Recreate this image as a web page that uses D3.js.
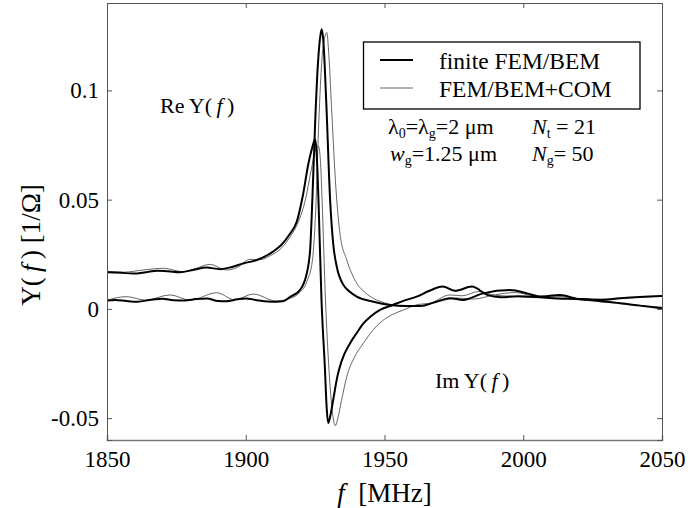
<!DOCTYPE html>
<html>
<head>
<meta charset="utf-8">
<script src="https://cdn.jsdelivr.net/npm/d3@7"></script>
<style>
  body { margin: 0; background: #fff; }
  svg text { font-family: 'Liberation Serif', 'Times New Roman', Times, 'DejaVu Serif', serif; fill: #000; }
</style>
</head>
<body>
<div id="chart"></div>
<script>
// frequency / admittance pairs, [MHz, 1/Ohm]
const reFem = [
  [1850, 0.0038], [1853, 0.0041], [1857, 0.0036], [1861, 0.0033], [1866, 0.0042], [1870, 0.0046],
  [1874, 0.0040], [1878, 0.0039], [1882, 0.0045], [1886, 0.0048], [1890, 0.0036], [1893, 0.0035],
  [1897, 0.0044], [1900, 0.0048], [1904, 0.0040], [1908, 0.0034], [1911, 0.0033], [1913.5, 0.0035],
  [1916, 0.0055], [1919.5, 0.0086], [1922, 0.0163], [1923.2, 0.027], [1924, 0.050], [1925, 0.085],
  [1926, 0.112], [1927, 0.126], [1927.4, 0.128], [1928, 0.122], [1929, 0.095], [1930.4, 0.050],
  [1931.5, 0.030], [1932.8, 0.0193], [1935.2, 0.011], [1937.5, 0.0078], [1940, 0.0056], [1946, 0.0033],
  [1952, 0.0018], [1958, 0.0013], [1963, 0.0013], [1968, 0.0030], [1973.6, 0.0049], [1978.3, 0.0041],
  [1985.5, 0.0071], [1995.2, 0.0086], [2001.4, 0.0071], [2006, 0.0056], [2013.2, 0.0064], [2020.5, 0.0044],
  [2027.7, 0.0041], [2034.9, 0.0049], [2042, 0.0055], [2050, 0.0059],
];
const reCom = [
  [1850, 0.0040], [1857, 0.0056], [1864, 0.0040], [1872.7, 0.0064], [1880, 0.0040], [1889.5, 0.0074],
  [1896, 0.0042], [1902.7, 0.0068], [1911, 0.0036], [1915, 0.0045], [1919, 0.0070], [1922, 0.0125],
  [1924, 0.022], [1925.2, 0.045], [1926.3, 0.085], [1927.5, 0.115], [1928.5, 0.1245], [1929.2, 0.1265],
  [1930, 0.115], [1931, 0.090], [1932.5, 0.055], [1934, 0.034], [1936.4, 0.0224], [1940, 0.0117],
  [1943, 0.0075], [1946, 0.0048], [1950, 0.0028], [1953, 0.0018], [1958, 0.0012], [1963, 0.0015],
  [1970, 0.0035], [1976, 0.0050], [1982, 0.0045], [1990, 0.0065], [1997, 0.0075], [2004, 0.0060],
  [2012, 0.0058], [2020, 0.0048], [2030, 0.0045], [2040, 0.0052], [2050, 0.0058],
];
const imFem = [
  [1850, 0.0168], [1855, 0.0165], [1859.5, 0.0162], [1864, 0.0168], [1868, 0.0175], [1872, 0.0172],
  [1876.3, 0.0168], [1881, 0.0178], [1886, 0.0189], [1890.7, 0.0182], [1895, 0.0192], [1899, 0.0208],
  [1904, 0.0224], [1909, 0.0255], [1913, 0.0295], [1916, 0.0345], [1918.4, 0.040], [1920.6, 0.052],
  [1922.5, 0.066], [1924, 0.074], [1925, 0.0776], [1925.6, 0.070], [1926.2, 0.050], [1927.3, 0.004],
  [1928.5, -0.0265], [1929.2, -0.046], [1929.7, -0.0522], [1930.3, -0.050], [1931.5, -0.0417],
  [1933, -0.031], [1934.5, -0.024], [1937.6, -0.0157], [1940, -0.011], [1942.4, -0.0066],
  [1945, -0.0035], [1948.4, -0.0005], [1953, 0.0018], [1957, 0.0038], [1961.6, 0.0056], [1966, 0.0082],
  [1971, 0.0102], [1975.4, 0.0083], [1981.5, 0.0102], [1987, 0.0064], [1992, 0.0053], [1998, 0.0058],
  [2005, 0.0055], [2012, 0.0048], [2021, 0.0045], [2028, 0.0035], [2035, 0.0026], [2042, 0.0015],
  [2050, 0.0003],
];
const imCom = [
  [1850, 0.0172], [1856, 0.0168], [1863, 0.0178], [1870.3, 0.0186], [1877.5, 0.0170], [1882, 0.0185],
  [1887.1, 0.0204], [1893, 0.0178], [1897, 0.0190], [1901.5, 0.0227], [1905, 0.0225], [1909, 0.0245],
  [1913, 0.028], [1916, 0.033], [1919, 0.040], [1921.5, 0.050], [1923.5, 0.063], [1925.2, 0.073],
  [1926.2, 0.0745], [1926.9, 0.068], [1927.5, 0.050], [1928.7, 0.005], [1930, -0.028], [1931.3, -0.048],
  [1932.3, -0.0535], [1933, -0.051], [1934.5, -0.042], [1936.4, -0.031], [1939, -0.0225],
  [1942.4, -0.0157], [1946, -0.0095], [1949.6, -0.0051], [1953, -0.0025], [1956.8, -0.0005],
  [1962, 0.0020], [1966.4, 0.0026], [1973.6, 0.0064], [1978, 0.0060], [1984, 0.0080], [1990, 0.0062],
  [1996, 0.0058], [2003, 0.0052], [2012, 0.0050], [2020, 0.0042], [2030, 0.0030], [2040, 0.0018],
  [2050, 0.0008],
];

const xTicks = [1850, 1900, 1950, 2000, 2050];
const yTicks = [-0.05, 0, 0.05, 0.1];
const yTickLabels = ['-0.05', '0', '0.05', '0.1'];
const legendLabels = ['finite FEM/BEM', 'FEM/BEM+COM'];

const serif = "'Liberation Serif', 'Times New Roman', Times, 'DejaVu Serif', serif";
const size = { width: 699, height: 508 };
const margin = { left: 107, top: 3, right: 37, bottom: 68 };

const svg = d3.select('#chart').append('svg')
  .attr('width', size.width)
  .attr('height', size.height)
  .attr('font-family', serif);

const x = d3.scaleLinear().domain([1850, 2050]).range([margin.left, size.width - margin.right]);
const y = d3.scaleLinear().domain([-0.06, 0.14]).range([size.height - margin.bottom, margin.top]);

svg.append('clipPath').attr('id', 'plot-clip')
  .append('rect')
  .attr('x', x(1850)).attr('y', y(0.14))
  .attr('width', x(2050) - x(1850)).attr('height', y(-0.06) - y(0.14));

const line = d3.line()
  .x((d) => x(d[0]))
  .y((d) => y(d[1]))
  .curve(d3.curveMonotoneX);

const series = [
  { data: reCom, thick: false },
  { data: imCom, thick: false },
  { data: reFem, thick: true },
  { data: imFem, thick: true },
];

svg.append('g')
  .attr('clip-path', 'url(#plot-clip)')
  .selectAll('path')
  .data(series)
  .join('path')
  .attr('d', (d) => line(d.data))
  .attr('fill', 'none')
  .attr('stroke', (d) => (d.thick ? '#000' : '#555'))
  .attr('stroke-width', (d) => (d.thick ? 2 : 0.9))
  .attr('stroke-linejoin', 'round');

// frame with inward ticks on all four sides (matlab style)
const frameColor = '#555';
const x0 = x(1850); const x1 = x(2050); const y0 = y(-0.06); const y1 = y(0.14);
const tickLen = 5;

const styleTicks = (g) => g.selectAll('.tick text')
  .attr('font-family', serif)
  .style('font-family', serif)
  .style('font-size', '23px')
  .attr('fill', '#000');

svg.append('g')
  .attr('transform', `translate(0,${y0})`)
  .call(d3.axisBottom(x).tickValues(xTicks).tickSize(-tickLen).tickPadding(11).tickFormat(d3.format('d')))
  .attr('font-family', serif)
  .call((g) => g.select('.domain').attr('stroke', '#777').attr('stroke-width', 1.5))
  .call((g) => g.selectAll('.tick line').attr('stroke', frameColor))
  .call(styleTicks);

svg.append('g')
  .attr('transform', `translate(0,${y1})`)
  .call(d3.axisTop(x).tickValues(xTicks).tickSize(-tickLen).tickFormat(''))
  .call((g) => g.select('.domain').attr('stroke', frameColor))
  .call((g) => g.selectAll('.tick line').attr('stroke', frameColor));

svg.append('g')
  .attr('transform', `translate(${x0},0)`)
  .call(d3.axisLeft(y).tickValues(yTicks).tickSize(-tickLen).tickPadding(8)
    .tickFormat((d, i) => yTickLabels[i]))
  .attr('font-family', serif)
  .call((g) => g.select('.domain').attr('stroke', frameColor))
  .call((g) => g.selectAll('.tick line').attr('stroke', frameColor))
  .call(styleTicks);

svg.append('g')
  .attr('transform', `translate(${x1},0)`)
  .call(d3.axisRight(y).tickValues(yTicks).tickSize(-tickLen).tickFormat(''))
  .call((g) => g.select('.domain').attr('stroke', frameColor))
  .call((g) => g.selectAll('.tick line').attr('stroke', frameColor));

// axis titles
const xTitle = svg.append('text')
  .attr('x', x(1950))
  .attr('y', 502)
  .attr('text-anchor', 'middle')
  .style('font-size', '27px');
xTitle.append('tspan').style('font-style', 'italic').text('f');
xTitle.append('tspan').text('\u2002[MHz]');

const yTitle = svg.append('text')
  .attr('transform', 'translate(40,245) rotate(-90)')
  .attr('text-anchor', 'middle')
  .style('font-size', '27px');
yTitle.append('tspan').text('Y(\u2009');
yTitle.append('tspan').style('font-style', 'italic').text('f');
yTitle.append('tspan').text('\u2009) [1/\u03a9]');

// curve labels
const addLabel = (prefix, px, py) => {
  const t = svg.append('text').attr('x', px).attr('y', py).style('font-size', '22px');
  t.append('tspan').text(`${prefix}\u2009Y(\u2009`);
  t.append('tspan').style('font-style', 'italic').text('f');
  t.append('tspan').text('\u2009)');
};
addLabel('Re', 160, 113);
addLabel('Im', 435, 388);

// legend
const legend = svg.append('g');
legend.append('rect')
  .attr('x', 363.5).attr('y', 42)
  .attr('width', 276.5).attr('height', 67)
  .attr('fill', '#fff')
  .attr('stroke', '#000')
  .attr('stroke-width', 1.3);
legendLabels.forEach((label, i) => {
  const ly = 60 + i * 28;
  legend.append('line')
    .attr('x1', 380).attr('x2', 413)
    .attr('y1', ly).attr('y2', ly)
    .attr('stroke', i === 0 ? '#000' : '#555')
    .attr('stroke-width', i === 0 ? 2 : 0.9);
  legend.append('text')
    .attr('x', 439).attr('y', ly + 8.5)
    .style('font-size', '23.5px')
    .text(label);
});

// parameter annotations
const sub = (t, s, italic) => {
  const el = t.append('tspan').text(s[0]);
  if (italic) el.style('font-style', 'italic');
  t.append('tspan').attr('dy', 3.5).style('font-size', '14px').text(s[1]);
  t.append('tspan').attr('dy', -3.5).text(s[2] || '');
};
const row1 = svg.append('text').attr('x', 388).attr('y', 134).style('font-size', '22px');
sub(row1, ['\u03bb', '0', '=']);
sub(row1, ['\u03bb', 'g', '=2 \u03bcm']);
const row1b = svg.append('text').attr('x', 532).attr('y', 134).style('font-size', '22px');
sub(row1b, ['N', 't', ' = 21'], true);

const row2 = svg.append('text').attr('x', 390).attr('y', 161).style('font-size', '22px');
sub(row2, ['w', 'g', '=1.25 \u03bcm'], true);
const row2b = svg.append('text').attr('x', 532).attr('y', 161).style('font-size', '22px');
sub(row2b, ['N', 'g', '= 50'], true);
</script>
</body>
</html>
